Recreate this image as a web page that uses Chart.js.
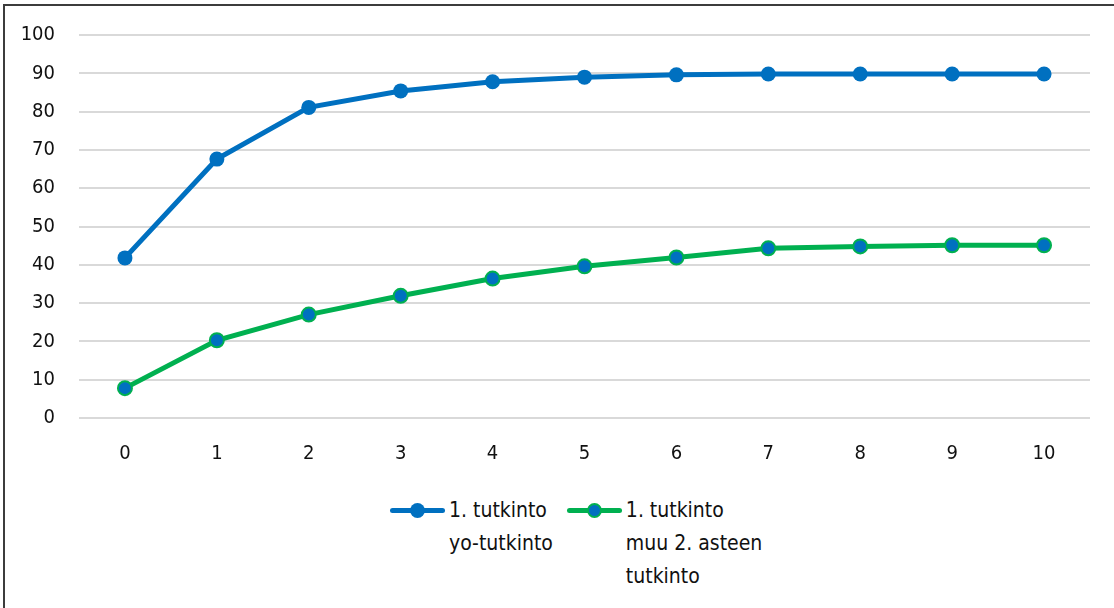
<!DOCTYPE html>
<html>
<head>
<meta charset="utf-8">
<script src="https://cdn.jsdelivr.net/npm/chart.js@4"></script>
<style>
  html, body { margin: 0; padding: 0; background: #fff; overflow: hidden; }
  body { width: 1114px; height: 608px; position: relative; }
  #frame {
    position: absolute; left: 3px; top: 4px; width: 1200px; height: 700px;
    border-left: 2px solid #3c3c3c; border-top: 2px solid #3c3c3c;
  }
  #chart { position: absolute; left: 0; top: -7px; }
  #legend {
    position: absolute; left: 385px; top: 488px; display: flex;
    font-family: 'DejaVu Sans Condensed', sans-serif;
    font-size: 21px; line-height: 33px; color: #111;
  }
  .item { display: flex; align-items: flex-start; margin-right: 14px; }
  .mark { position: relative; width: 55px; height: 33px; margin-right: 4px; }
  .mark .ln { position: absolute; left: 0; right: 0; top: 14px; height: 5px; border-radius: 3px; }
  .mark .dot { position: absolute; left: 20px; top: 9px; width: 15px; height: 15px; border-radius: 50%; box-sizing: border-box; }
</style>
</head>
<body>
<div id="frame">
  <canvas id="chart" width="1109" height="467"></canvas>
  <div id="legend"></div>
</div>
<script>
const years = ['0', '1', '2', '3', '4', '5', '6', '7', '8', '9', '10'];
const yoValues = [41.8, 67.6, 81.1, 85.4, 87.8, 89.0, 89.6, 89.8, 89.8, 89.8, 89.8];
const muuValues = [7.8, 20.3, 27.0, 31.9, 36.4, 39.6, 41.9, 44.3, 44.8, 45.1, 45.1];
const yoLabel = ['1. tutkinto', 'yo-tutkinto'];
const muuLabel = ['1. tutkinto', 'muu 2. asteen', 'tutkinto'];
const yTicks = [0, 10, 20, 30, 40, 50, 60, 70, 80, 90, 100];

const blue = '#0070c0';
const green = '#00b050';
const font = "'DejaVu Sans Condensed', sans-serif";

const ctx = document.getElementById('chart').getContext('2d');
const chart = new Chart(ctx, {
  type: 'line',
  data: {
    labels: years,
    datasets: [
      {
        label: yoLabel,
        data: yoValues,
        borderColor: blue,
        backgroundColor: blue,
        borderWidth: 5,
        pointRadius: 7.5,
        pointBackgroundColor: blue,
        pointBorderColor: blue,
        pointBorderWidth: 0,
        tension: 0
      },
      {
        label: muuLabel,
        data: muuValues,
        borderColor: green,
        backgroundColor: green,
        borderWidth: 5,
        pointRadius: 7,
        pointBackgroundColor: blue,
        pointBorderColor: green,
        pointBorderWidth: 2,
        tension: 0
      }
    ]
  },
  options: {
    responsive: false,
    animation: false,
    layout: { padding: { top: 11, right: 24, bottom: 0, left: 0 } },
    plugins: {
      legend: { display: false },
      tooltip: { enabled: false }
    },
    scales: {
      x: {
        offset: true,
        afterFit: (scale) => { scale.height = 48; },
        grid: { display: false, drawTicks: false },
        border: { display: false },
        ticks: { color: '#111', font: { family: font, size: 20 }, padding: 24 }
      },
      y: {
        min: 0,
        max: 100,
        afterFit: (scale) => { scale.width = 74; },
        afterBuildTicks: (scale) => { scale.ticks = yTicks.map(v => ({ value: v })); },
        grid: { color: '#d9d9d9', lineWidth: 2, drawTicks: false },
        border: { display: false },
        ticks: { color: '#111', font: { family: font, size: 20 }, padding: 24 }
      }
    }
  }
});

// legend built from the chart's datasets
const legend = document.getElementById('legend');
chart.data.datasets.forEach(ds => {
  const item = document.createElement('div');
  item.className = 'item';
  const mark = document.createElement('div');
  mark.className = 'mark';
  const ln = document.createElement('div');
  ln.className = 'ln';
  ln.style.background = ds.borderColor;
  const dot = document.createElement('div');
  dot.className = 'dot';
  dot.style.background = ds.pointBackgroundColor;
  dot.style.border = ds.pointBorderWidth + 'px solid ' + ds.pointBorderColor;
  mark.appendChild(ln);
  mark.appendChild(dot);
  const txt = document.createElement('div');
  txt.innerHTML = ds.label.join('<br>');
  item.appendChild(mark);
  item.appendChild(txt);
  legend.appendChild(item);
});
</script>
</body>
</html>
